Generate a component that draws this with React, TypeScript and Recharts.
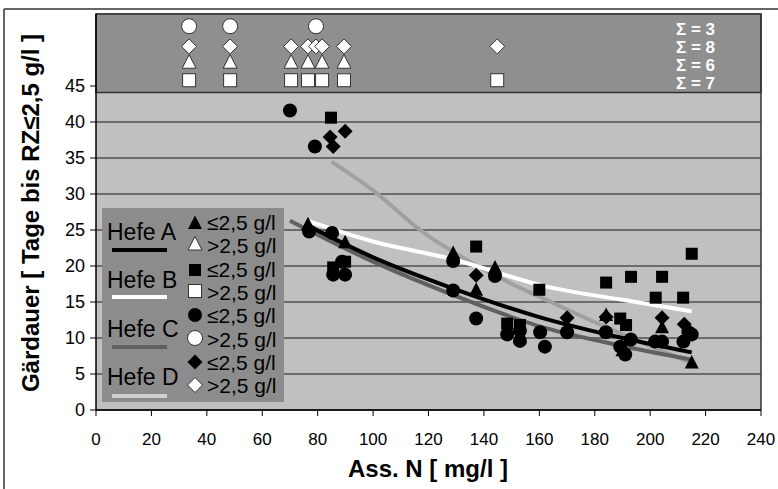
import React from 'react'
import {
  ComposedChart,
  Line,
  Scatter,
  XAxis,
  YAxis,
  CartesianGrid,
  ReferenceArea,
  ReferenceLine,
} from 'recharts'

type Pt = { x: number; y: number }

const xTicks = [0, 20, 40, 60, 80, 100, 120, 140, 160, 180, 200, 220, 240]
const yTicks = [0, 5, 10, 15, 20, 25, 30, 35, 40, 45]

// Gärdauer <= 2,5 g/l (filled markers)
const hefeALow: Pt[] = [
  { x: 76.5, y: 25.8 }, { x: 89.9, y: 23.3 }, { x: 128.9, y: 21.8 }, { x: 137.2, y: 16.7 },
  { x: 144, y: 19.8 }, { x: 184.1, y: 13.2 }, { x: 190, y: 8.3 }, { x: 204.3, y: 11.5 },
  { x: 215, y: 6.6 },
]
const hefeBLow: Pt[] = [
  { x: 84.8, y: 40.6 }, { x: 85.6, y: 19.8 }, { x: 89.9, y: 20.6 }, { x: 137.2, y: 22.7 },
  { x: 148.4, y: 12.0 }, { x: 153, y: 11.8 }, { x: 160, y: 16.7 }, { x: 184.1, y: 17.7 },
  { x: 189.2, y: 12.7 }, { x: 191.3, y: 11.8 }, { x: 193.1, y: 18.5 }, { x: 202, y: 15.6 },
  { x: 204.3, y: 18.5 }, { x: 211.9, y: 15.6 }, { x: 215, y: 21.7 },
]
const hefeCLow: Pt[] = [
  { x: 70, y: 41.6 }, { x: 79, y: 36.6 }, { x: 76.9, y: 24.8 }, { x: 85.2, y: 24.6 },
  { x: 85.6, y: 18.8 }, { x: 89.9, y: 18.8 }, { x: 88.8, y: 20.6 }, { x: 128.9, y: 20.7 },
  { x: 128.9, y: 16.6 }, { x: 137.2, y: 12.7 }, { x: 144, y: 18.6 }, { x: 148.4, y: 10.5 },
  { x: 153, y: 9.6 }, { x: 153, y: 11.0 }, { x: 160.3, y: 10.8 }, { x: 162, y: 8.8 },
  { x: 170, y: 10.8 }, { x: 184, y: 10.8 }, { x: 189.2, y: 8.8 }, { x: 191, y: 7.7 },
  { x: 193, y: 9.8 }, { x: 201.8, y: 9.5 }, { x: 204.3, y: 9.5 }, { x: 212, y: 9.5 },
  { x: 213.8, y: 10.8 }, { x: 215, y: 10.5 },
]
const hefeDLow: Pt[] = [
  { x: 84.5, y: 37.9 }, { x: 85.6, y: 36.6 }, { x: 89.9, y: 38.7 }, { x: 137.2, y: 18.7 },
  { x: 170, y: 12.8 }, { x: 184.1, y: 12.9 }, { x: 204.3, y: 12.8 }, { x: 212.3, y: 11.9 },
]

// Gärdauer > 2,5 g/l (open markers in the top band)
const hefeAHigh: Pt[] = [33.6, 48.4, 70.4, 76.5, 81.6, 89.5].map((x) => ({ x, y: 48.3 }))
const hefeBHigh: Pt[] = [33.6, 48.4, 70.4, 76.5, 81.6, 89.5, 144.8].map((x) => ({ x, y: 45.8 }))
const hefeCHigh: Pt[] = [33.6, 48.4, 79.4].map((x) => ({ x, y: 53.3 }))
const hefeDHigh: Pt[] = [33.6, 48.4, 70.4, 76.5, 79.4, 81.6, 89.5, 144.8].map((x) => ({ x, y: 50.5 }))

// trend lines
const trendA: Pt[] = [
  { x: 77, y: 25.5 }, { x: 100, y: 21.2 }, { x: 128, y: 17.0 }, { x: 160, y: 12.9 },
  { x: 190, y: 10.0 }, { x: 215, y: 8.0 },
]
const trendB: Pt[] = [
  { x: 77, y: 26.2 }, { x: 100, y: 23.4 }, { x: 128, y: 21.0 }, { x: 163, y: 17.1 },
  { x: 190, y: 15.3 }, { x: 215, y: 13.7 },
]
const trendC: Pt[] = [
  { x: 70, y: 26.3 }, { x: 100, y: 20.6 }, { x: 128, y: 16.1 }, { x: 162, y: 11.4 },
  { x: 190, y: 8.9 }, { x: 215, y: 7.0 },
]
const trendD: Pt[] = [
  { x: 85, y: 34.5 }, { x: 100, y: 30.5 }, { x: 117, y: 25.0 }, { x: 140, y: 19.5 },
  { x: 163, y: 15.2 }, { x: 190, y: 10.5 }, { x: 215, y: 6.5 },
]

const sums = ['Σ = 3', 'Σ = 8', 'Σ = 6', 'Σ = 7']

const FONT = '"Liberation Sans", Arial, sans-serif'
const OPEN_STROKE = '#333'

function Marker({ kind, cx, cy, open }: { kind: string; cx: number; cy: number; open?: boolean }) {
  const fill = open ? '#fff' : '#000'
  const stroke = open ? OPEN_STROKE : '#000'
  const sw = open ? 1 : 0
  if (kind === 'circle') return <circle cx={cx} cy={cy} r={open ? 7.5 : 7} fill={fill} stroke={stroke} strokeWidth={sw} />
  if (kind === 'square') {
    const s = open ? 13 : 12
    return <rect x={cx - s / 2} y={cy - s / 2} width={s} height={s} fill={fill} stroke={stroke} strokeWidth={sw} />
  }
  if (kind === 'triangle')
    return (
      <polygon
        points={`${cx},${cy - 7.5} ${cx + 7},${cy + 6} ${cx - 7},${cy + 6}`}
        fill={fill}
        stroke={stroke}
        strokeWidth={sw}
      />
    )
  return (
    <polygon
      points={`${cx},${cy - 7.5} ${cx + 7.5},${cy} ${cx},${cy + 7.5} ${cx - 7.5},${cy}`}
      fill={fill}
      stroke={stroke}
      strokeWidth={sw}
    />
  )
}

const shape = (kind: string, open?: boolean) => (p: any) =>
  <Marker kind={kind} cx={p.cx} cy={p.cy} open={open} />

const legendRows = [
  { kind: 'triangle', open: false, label: '≤2,5 g/l', cy: 223, base: 230 },
  { kind: 'triangle', open: true, label: '>2,5 g/l', cy: 244, base: 253 },
  { kind: 'square', open: false, label: '≤2,5 g/l', cy: 270, base: 277 },
  { kind: 'square', open: true, label: '>2,5 g/l', cy: 291, base: 300 },
  { kind: 'circle', open: false, label: '≤2,5 g/l', cy: 315, base: 323 },
  { kind: 'circle', open: true, label: '>2,5 g/l', cy: 338, base: 347 },
  { kind: 'diamond', open: false, label: '≤2,5 g/l', cy: 362, base: 370 },
  { kind: 'diamond', open: true, label: '>2,5 g/l', cy: 385, base: 393 },
]

const legendHefe = [
  { name: 'Hefe A', color: '#000', base: 240, line: 250 },
  { name: 'Hefe B', color: '#fff', base: 288, line: 297 },
  { name: 'Hefe C', color: '#606060', base: 337, line: 347 },
  { name: 'Hefe D', color: '#d0d0d0', base: 385, line: 396 },
]

export default function App() {
  return (
    <div style={{ position: 'absolute', left: 0, top: 0, width: 778, height: 489, background: '#fff', fontFamily: FONT }}>
      <ComposedChart
        width={778}
        height={489}
        margin={{ top: 14, right: 17, left: 0, bottom: 0 }}
      >
        <CartesianGrid horizontal vertical={false} stroke="#505050" strokeWidth={1.5} fill="#c0c0c0" fillOpacity={1} />
        <XAxis
          type="number"
          dataKey="x"
          domain={[0, 240]}
          ticks={xTicks}
          interval={0}
          height={79}
          tickSize={6}
          tickMargin={17}
          axisLine={{ stroke: '#000', strokeWidth: 1.5 }}
          tickLine={{ stroke: '#000' }}
          tick={{ fill: '#000', fontSize: 17, fontFamily: FONT }}
          allowDataOverflow
        />
        <YAxis
          type="number"
          dataKey="y"
          domain={[0, 55]}
          ticks={yTicks}
          interval={0}
          width={96}
          tickSize={6}
          tickMargin={5}
          axisLine={{ stroke: '#000', strokeWidth: 1.5 }}
          tickLine={{ stroke: '#000' }}
          tick={{ fill: '#000', fontSize: 18, fontFamily: FONT }}
          allowDataOverflow
        />
        <ReferenceArea x1={0} x2={240} y1={44.1} y2={55} fill="#8f8f8f" fillOpacity={1} stroke="#333" strokeWidth={1.5} />
        <ReferenceLine x={240} stroke="#333" strokeWidth={1.5} />
        <Line data={trendD} dataKey="y" type="monotone" stroke="#a0a0a0" strokeWidth={4} dot={false} isAnimationActive={false} />
        <Line data={trendB} dataKey="y" type="monotone" stroke="#fff" strokeWidth={4} dot={false} isAnimationActive={false} />
        <Line data={trendC} dataKey="y" type="monotone" stroke="#606060" strokeWidth={4} dot={false} isAnimationActive={false} />
        <Line data={trendA} dataKey="y" type="monotone" stroke="#000" strokeWidth={4} dot={false} isAnimationActive={false} />
        <Scatter data={hefeBLow} shape={shape('square')} isAnimationActive={false} />
        <Scatter data={hefeDLow} shape={shape('diamond')} isAnimationActive={false} />
        <Scatter data={hefeALow} shape={shape('triangle')} isAnimationActive={false} />
        <Scatter data={hefeCLow} shape={shape('circle')} isAnimationActive={false} />
        <Scatter data={hefeCHigh} shape={shape('circle', true)} isAnimationActive={false} />
        <Scatter data={hefeDHigh} shape={shape('diamond', true)} isAnimationActive={false} />
        <Scatter data={hefeAHigh} shape={shape('triangle', true)} isAnimationActive={false} />
        <Scatter data={hefeBHigh} shape={shape('square', true)} isAnimationActive={false} />
      </ComposedChart>

      <svg
        width={778}
        height={489}
        style={{ position: 'absolute', left: 0, top: 0, pointerEvents: 'none' }}
      >
        <line x1={4} y1={9} x2={778} y2={9} stroke="#333" strokeWidth={1.5} />
        <line x1={4} y1={9} x2={4} y2={489} stroke="#333" strokeWidth={1.5} />

        {sums.map((s, i) => (
          <text key={s} x={676} y={35 + i * 18} fill="#fff" fontSize={17} fontWeight="bold" fontFamily={FONT}>
            {s}
          </text>
        ))}

        <text
          x={428}
          y={477}
          textAnchor="middle"
          fontSize={24}
          fontWeight="bold"
          fontFamily={FONT}
          fill="#000"
        >
          Ass. N [ mg/l ]
        </text>
        <text
          transform="translate(39, 213) rotate(-90)"
          textAnchor="middle"
          fontSize={24}
          fontWeight="bold"
          fontFamily={FONT}
          fill="#000"
        >
          Gärdauer [ Tage bis RZ≤2,5 g/l ]
        </text>

        <rect x={102} y={208} width={182} height={194} fill="#8c8c8c" />
        {legendHefe.map((h) => (
          <g key={h.name}>
            <text x={107} y={h.base} fontSize={23} fontFamily={FONT} fill="#000">
              {h.name}
            </text>
            <line x1={112} x2={167} y1={h.line} y2={h.line} stroke={h.color} strokeWidth={4} />
          </g>
        ))}
        {legendRows.map((r, i) => (
          <g key={i}>
            <Marker kind={r.kind} cx={195} cy={r.cy} open={r.open} />
            <text x={207} y={r.base} fontSize={21} fontFamily={FONT} fill="#000">
              {r.label}
            </text>
          </g>
        ))}
      </svg>
    </div>
  )
}
